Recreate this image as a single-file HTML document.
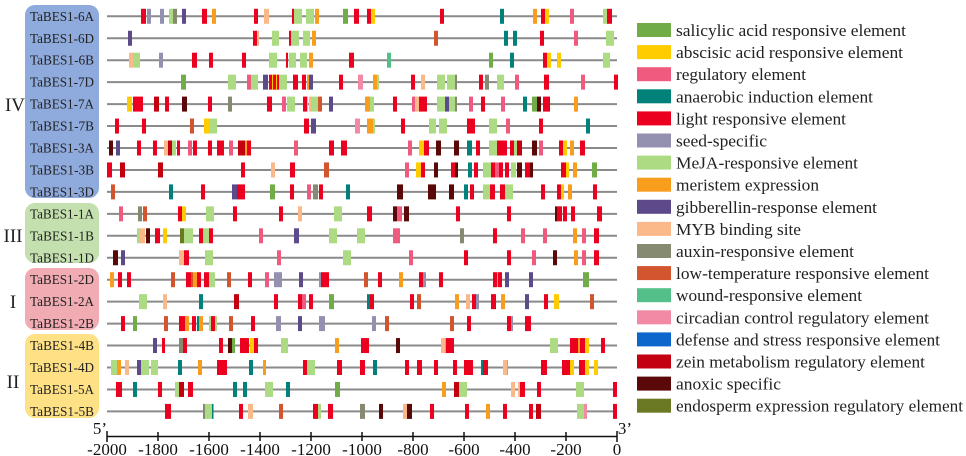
<!DOCTYPE html>
<html><head><meta charset="utf-8"><style>
html,body{margin:0;padding:0;background:#fff;}
svg{display:block;font-family:"Liberation Serif",serif;}
.G{fill:#70ad47}.Y{fill:#ffcc00}.P{fill:#f05a7e}.T{fill:#00827a}.R{fill:#ec0020}.S{fill:#9490b0}
.M{fill:#addb84}.O{fill:#f99d1c}.U{fill:#5d4a8a}.B{fill:#fbb98a}.A{fill:#858a70}.L{fill:#d2552e}
.W{fill:#55bf8a}.C{fill:#f28aa6}.D{fill:#0d66cc}.Z{fill:#c3000f}.X{fill:#5a0808}.E{fill:#6b7a22}
.ln{stroke:#8a8a8a;stroke-width:2}
.gl{font-size:13.3px;fill:#222;text-anchor:middle}
.gp{font-size:19px;fill:#222;text-anchor:middle}
.lg{font-size:17px;fill:#222}
.ax{font-size:17px;fill:#111;text-anchor:middle}
</style></head><body>
<svg width="966" height="456" viewBox="0 0 966 456" xmlns="http://www.w3.org/2000/svg">
<rect x="25" y="5" width="74" height="193" rx="10" fill="#8faadc"/>
<rect x="25" y="203" width="74" height="60" rx="10" fill="#c3e0ae"/>
<rect x="25" y="268" width="74" height="62" rx="10" fill="#f1abb3"/>
<rect x="25" y="334" width="74" height="84" rx="10" fill="#ffe185"/>
<text class="gp" x="15" y="111">IV</text>
<text class="gp" x="13" y="242">III</text>
<text class="gp" x="13" y="308">I</text>
<text class="gp" x="13" y="388">II</text>
<g class="gl">
<text x="62" y="20.8" textLength="64" lengthAdjust="spacingAndGlyphs">TaBES1-6A</text>
<text x="62" y="42.8" textLength="64" lengthAdjust="spacingAndGlyphs">TaBES1-6D</text>
<text x="62" y="64.7" textLength="64" lengthAdjust="spacingAndGlyphs">TaBES1-6B</text>
<text x="62" y="86.7" textLength="64" lengthAdjust="spacingAndGlyphs">TaBES1-7D</text>
<text x="62" y="108.6" textLength="64" lengthAdjust="spacingAndGlyphs">TaBES1-7A</text>
<text x="62" y="130.6" textLength="64" lengthAdjust="spacingAndGlyphs">TaBES1-7B</text>
<text x="62" y="152.5" textLength="64" lengthAdjust="spacingAndGlyphs">TaBES1-3A</text>
<text x="62" y="174.5" textLength="64" lengthAdjust="spacingAndGlyphs">TaBES1-3B</text>
<text x="62" y="196.4" textLength="64" lengthAdjust="spacingAndGlyphs">TaBES1-3D</text>
<text x="62" y="218.4" textLength="64" lengthAdjust="spacingAndGlyphs">TaBES1-1A</text>
<text x="62" y="240.3" textLength="64" lengthAdjust="spacingAndGlyphs">TaBES1-1B</text>
<text x="62" y="262.3" textLength="64" lengthAdjust="spacingAndGlyphs">TaBES1-1D</text>
<text x="62" y="284.2" textLength="64" lengthAdjust="spacingAndGlyphs">TaBES1-2D</text>
<text x="62" y="306.2" textLength="64" lengthAdjust="spacingAndGlyphs">TaBES1-2A</text>
<text x="62" y="328.1" textLength="64" lengthAdjust="spacingAndGlyphs">TaBES1-2B</text>
<text x="62" y="350.1" textLength="64" lengthAdjust="spacingAndGlyphs">TaBES1-4B</text>
<text x="62" y="372" textLength="64" lengthAdjust="spacingAndGlyphs">TaBES1-4D</text>
<text x="62" y="394" textLength="64" lengthAdjust="spacingAndGlyphs">TaBES1-5A</text>
<text x="62" y="415.9" textLength="64" lengthAdjust="spacingAndGlyphs">TaBES1-5B</text>
</g>
<g class="ln">
<line x1="107" x2="617" y1="16.3" y2="16.3"/>
<line x1="107" x2="617" y1="38.25" y2="38.25"/>
<line x1="107" x2="617" y1="60.2" y2="60.2"/>
<line x1="107" x2="617" y1="82.15" y2="82.15"/>
<line x1="107" x2="617" y1="104.1" y2="104.1"/>
<line x1="107" x2="617" y1="126.05" y2="126.05"/>
<line x1="107" x2="617" y1="148" y2="148"/>
<line x1="107" x2="617" y1="169.95" y2="169.95"/>
<line x1="107" x2="617" y1="191.9" y2="191.9"/>
<line x1="107" x2="617" y1="213.85" y2="213.85"/>
<line x1="107" x2="617" y1="235.8" y2="235.8"/>
<line x1="107" x2="617" y1="257.75" y2="257.75"/>
<line x1="107" x2="617" y1="279.7" y2="279.7"/>
<line x1="107" x2="617" y1="301.65" y2="301.65"/>
<line x1="107" x2="617" y1="323.6" y2="323.6"/>
<line x1="107" x2="617" y1="345.55" y2="345.55"/>
<line x1="107" x2="617" y1="367.5" y2="367.5"/>
<line x1="107" x2="617" y1="389.45" y2="389.45"/>
<line x1="107" x2="617" y1="411.4" y2="411.4"/>
</g>
<g transform="translate(0,16.3)">
<rect x="141" y="-7.5" width="5" height="15" class="R"/><rect x="147" y="-7.5" width="4" height="15" class="S"/><rect x="160" y="-7.5" width="4" height="15" class="S"/><rect x="169" y="-7.5" width="4" height="15" class="M"/><rect x="173" y="-7.5" width="4" height="15" class="A"/><rect x="182" y="-7.5" width="4" height="15" class="U"/><rect x="202" y="-7.5" width="5" height="15" class="R"/><rect x="212" y="-7.5" width="4" height="15" class="O"/><rect x="254" y="-7.5" width="4" height="15" class="R"/><rect x="264" y="-7.5" width="5" height="15" class="B"/><rect x="292" y="-7.5" width="2" height="15" class="R"/><rect x="294" y="-7.5" width="8" height="15" class="M"/><rect x="306" y="-7.5" width="8" height="15" class="M"/><rect x="315" y="-7.5" width="4" height="15" class="O"/><rect x="343" y="-7.5" width="5" height="15" class="G"/><rect x="354" y="-7.5" width="5" height="15" class="R"/><rect x="367" y="-7.5" width="4" height="15" class="R"/><rect x="371" y="-7.5" width="4" height="15" class="Y"/><rect x="440" y="-7.5" width="4" height="15" class="R"/><rect x="500" y="-7.5" width="4" height="15" class="T"/><rect x="533" y="-7.5" width="4" height="15" class="O"/><rect x="541" y="-7.5" width="4" height="15" class="R"/><rect x="545" y="-7.5" width="4" height="15" class="Y"/><rect x="570" y="-7.5" width="4" height="15" class="P"/><rect x="603" y="-7.5" width="4" height="15" class="M"/><rect x="607" y="-7.5" width="5" height="15" class="R"/>
</g>
<g transform="translate(0,38.25)">
<rect x="128" y="-7.5" width="4" height="15" class="U"/><rect x="253" y="-7.5" width="4" height="15" class="R"/><rect x="257" y="-7.5" width="2" height="15" class="B"/><rect x="272" y="-7.5" width="7" height="15" class="M"/><rect x="289" y="-7.5" width="2" height="15" class="R"/><rect x="291" y="-7.5" width="8" height="15" class="M"/><rect x="303" y="-7.5" width="7" height="15" class="M"/><rect x="312" y="-7.5" width="4" height="15" class="O"/><rect x="434" y="-7.5" width="4" height="15" class="L"/><rect x="504" y="-7.5" width="4" height="15" class="T"/><rect x="513" y="-7.5" width="4" height="15" class="T"/><rect x="540" y="-7.5" width="4" height="15" class="R"/><rect x="574" y="-7.5" width="4" height="15" class="P"/><rect x="606" y="-7.5" width="8" height="15" class="M"/>
</g>
<g transform="translate(0,60.2)">
<rect x="129" y="-7.5" width="4" height="15" class="B"/><rect x="133" y="-7.5" width="7" height="15" class="M"/><rect x="159" y="-7.5" width="4" height="15" class="S"/><rect x="192" y="-7.5" width="5" height="15" class="R"/><rect x="209" y="-7.5" width="4" height="15" class="R"/><rect x="242" y="-7.5" width="4" height="15" class="R"/><rect x="269" y="-7.5" width="8" height="15" class="M"/><rect x="286" y="-7.5" width="2" height="15" class="R"/><rect x="289" y="-7.5" width="7" height="15" class="M"/><rect x="300" y="-7.5" width="7" height="15" class="M"/><rect x="309" y="-7.5" width="4" height="15" class="O"/><rect x="349" y="-7.5" width="5" height="15" class="R"/><rect x="387" y="-7.5" width="4" height="15" class="W"/><rect x="489" y="-7.5" width="4" height="15" class="G"/><rect x="510" y="-7.5" width="4" height="15" class="T"/><rect x="543" y="-7.5" width="4" height="15" class="R"/><rect x="547" y="-7.5" width="4" height="15" class="Y"/><rect x="557" y="-7.5" width="4" height="15" class="Y"/><rect x="603" y="-7.5" width="7" height="15" class="M"/>
</g>
<g transform="translate(0,82.15)">
<rect x="181" y="-7.5" width="5" height="15" class="G"/><rect x="228" y="-7.5" width="8" height="15" class="M"/><rect x="247" y="-7.5" width="4" height="15" class="P"/><rect x="251" y="-7.5" width="7" height="15" class="M"/><rect x="263" y="-7.5" width="5" height="15" class="U"/><rect x="269" y="-7.5" width="10" height="15" class="R"/><rect x="272" y="-7.5" width="1" height="15" class="Y"/><rect x="276" y="-7.5" width="1" height="15" class="Y"/><rect x="279" y="-7.5" width="8" height="15" class="M"/><rect x="293" y="-7.5" width="5" height="15" class="R"/><rect x="302" y="-7.5" width="4" height="15" class="R"/><rect x="307" y="-7.5" width="2" height="15" class="O"/><rect x="309" y="-7.5" width="4" height="15" class="U"/><rect x="339" y="-7.5" width="4" height="15" class="R"/><rect x="358" y="-7.5" width="5" height="15" class="C"/><rect x="373" y="-7.5" width="4" height="15" class="O"/><rect x="377" y="-7.5" width="2" height="15" class="M"/><rect x="411" y="-7.5" width="4" height="15" class="R"/><rect x="421" y="-7.5" width="4" height="15" class="B"/><rect x="437" y="-7.5" width="8" height="15" class="M"/><rect x="447" y="-7.5" width="8" height="15" class="M"/><rect x="455" y="-7.5" width="2" height="15" class="A"/><rect x="479" y="-7.5" width="4" height="15" class="R"/><rect x="485" y="-7.5" width="4" height="15" class="A"/><rect x="497" y="-7.5" width="7" height="15" class="M"/><rect x="515" y="-7.5" width="4" height="15" class="P"/><rect x="544" y="-7.5" width="5" height="15" class="R"/><rect x="581" y="-7.5" width="4" height="15" class="P"/><rect x="614" y="-7.5" width="4" height="15" class="R"/>
</g>
<g transform="translate(0,104.1)">
<rect x="127" y="-7.5" width="5" height="15" class="Y"/><rect x="133" y="-7.5" width="10" height="15" class="R"/><rect x="154" y="-7.5" width="5" height="15" class="Z"/><rect x="165" y="-7.5" width="4" height="15" class="R"/><rect x="182" y="-7.5" width="5" height="15" class="X"/><rect x="208" y="-7.5" width="4" height="15" class="R"/><rect x="228" y="-7.5" width="4" height="15" class="A"/><rect x="267" y="-7.5" width="5" height="15" class="R"/><rect x="282" y="-7.5" width="4" height="15" class="P"/><rect x="287" y="-7.5" width="8" height="15" class="M"/><rect x="303" y="-7.5" width="4" height="15" class="R"/><rect x="307" y="-7.5" width="1" height="15" class="Y"/><rect x="309" y="-7.5" width="2" height="15" class="B"/><rect x="311" y="-7.5" width="7" height="15" class="M"/><rect x="318" y="-7.5" width="4" height="15" class="L"/><rect x="329" y="-7.5" width="4" height="15" class="U"/><rect x="365" y="-7.5" width="5" height="15" class="O"/><rect x="370" y="-7.5" width="4" height="15" class="M"/><rect x="393" y="-7.5" width="4" height="15" class="R"/><rect x="412" y="-7.5" width="3" height="15" class="P"/><rect x="415" y="-7.5" width="4" height="15" class="B"/><rect x="419" y="-7.5" width="8" height="15" class="R"/><rect x="437" y="-7.5" width="8" height="15" class="M"/><rect x="445" y="-7.5" width="4" height="15" class="U"/><rect x="449" y="-7.5" width="6" height="15" class="M"/><rect x="455" y="-7.5" width="2" height="15" class="A"/><rect x="469" y="-7.5" width="4" height="15" class="P"/><rect x="481" y="-7.5" width="4" height="15" class="R"/><rect x="501" y="-7.5" width="4" height="15" class="P"/><rect x="523" y="-7.5" width="4" height="15" class="T"/><rect x="532" y="-7.5" width="5" height="15" class="G"/><rect x="537" y="-7.5" width="4" height="15" class="X"/><rect x="543" y="-7.5" width="7" height="15" class="R"/><rect x="574" y="-7.5" width="4" height="15" class="O"/>
</g>
<g transform="translate(0,126.05)">
<rect x="115" y="-7.5" width="4" height="15" class="R"/><rect x="142" y="-7.5" width="4" height="15" class="R"/><rect x="190" y="-7.5" width="4" height="15" class="L"/><rect x="204" y="-7.5" width="5" height="15" class="Y"/><rect x="209" y="-7.5" width="8" height="15" class="M"/><rect x="304" y="-7.5" width="5" height="15" class="R"/><rect x="311" y="-7.5" width="5" height="15" class="U"/><rect x="355" y="-7.5" width="5" height="15" class="C"/><rect x="367" y="-7.5" width="6" height="15" class="O"/><rect x="373" y="-7.5" width="2" height="15" class="M"/><rect x="401" y="-7.5" width="4" height="15" class="R"/><rect x="429" y="-7.5" width="7" height="15" class="M"/><rect x="439" y="-7.5" width="8" height="15" class="M"/><rect x="467" y="-7.5" width="8" height="15" class="R"/><rect x="489" y="-7.5" width="8" height="15" class="M"/><rect x="506" y="-7.5" width="4" height="15" class="P"/><rect x="539" y="-7.5" width="4" height="15" class="R"/><rect x="586" y="-7.5" width="4" height="15" class="T"/>
</g>
<g transform="translate(0,148)">
<rect x="109" y="-7.5" width="4" height="15" class="X"/><rect x="116" y="-7.5" width="4" height="15" class="U"/><rect x="137" y="-7.5" width="4" height="15" class="R"/><rect x="153" y="-7.5" width="4" height="15" class="R"/><rect x="164" y="-7.5" width="4" height="15" class="B"/><rect x="168" y="-7.5" width="4" height="15" class="Z"/><rect x="172" y="-7.5" width="4" height="15" class="M"/><rect x="177" y="-7.5" width="3" height="15" class="R"/><rect x="188" y="-7.5" width="4" height="15" class="P"/><rect x="193" y="-7.5" width="4" height="15" class="R"/><rect x="208" y="-7.5" width="4" height="15" class="R"/><rect x="217" y="-7.5" width="7" height="15" class="R"/><rect x="229" y="-7.5" width="4" height="15" class="P"/><rect x="238" y="-7.5" width="7" height="15" class="Z"/><rect x="245" y="-7.5" width="2" height="15" class="O"/><rect x="247" y="-7.5" width="4" height="15" class="R"/><rect x="294" y="-7.5" width="4" height="15" class="P"/><rect x="329" y="-7.5" width="5" height="15" class="R"/><rect x="341" y="-7.5" width="6" height="15" class="R"/><rect x="408" y="-7.5" width="4" height="15" class="P"/><rect x="419" y="-7.5" width="5" height="15" class="Y"/><rect x="424" y="-7.5" width="5" height="15" class="R"/><rect x="436" y="-7.5" width="5" height="15" class="X"/><rect x="454" y="-7.5" width="5" height="15" class="X"/><rect x="467" y="-7.5" width="5" height="15" class="T"/><rect x="476" y="-7.5" width="4" height="15" class="R"/><rect x="489" y="-7.5" width="8" height="15" class="M"/><rect x="497" y="-7.5" width="4" height="15" class="R"/><rect x="501" y="-7.5" width="6" height="15" class="R"/><rect x="510" y="-7.5" width="4" height="15" class="R"/><rect x="514" y="-7.5" width="3" height="15" class="M"/><rect x="517" y="-7.5" width="5" height="15" class="Z"/><rect x="532" y="-7.5" width="5" height="15" class="X"/><rect x="539" y="-7.5" width="4" height="15" class="P"/><rect x="559" y="-7.5" width="4" height="15" class="R"/><rect x="563" y="-7.5" width="4" height="15" class="Y"/><rect x="570" y="-7.5" width="4" height="15" class="O"/><rect x="580" y="-7.5" width="5" height="15" class="R"/>
</g>
<g transform="translate(0,169.95)">
<rect x="107" y="-7.5" width="5" height="15" class="R"/><rect x="120" y="-7.5" width="5" height="15" class="Z"/><rect x="158" y="-7.5" width="5" height="15" class="Z"/><rect x="241" y="-7.5" width="4" height="15" class="R"/><rect x="271" y="-7.5" width="4" height="15" class="B"/><rect x="290" y="-7.5" width="5" height="15" class="R"/><rect x="324" y="-7.5" width="5" height="15" class="L"/><rect x="405" y="-7.5" width="4" height="15" class="P"/><rect x="416" y="-7.5" width="5" height="15" class="Y"/><rect x="421" y="-7.5" width="4" height="15" class="R"/><rect x="434" y="-7.5" width="4" height="15" class="X"/><rect x="451" y="-7.5" width="4" height="15" class="R"/><rect x="455" y="-7.5" width="3" height="15" class="X"/><rect x="468" y="-7.5" width="4" height="15" class="T"/><rect x="474" y="-7.5" width="4" height="15" class="R"/><rect x="483" y="-7.5" width="8" height="15" class="M"/><rect x="491" y="-7.5" width="4" height="15" class="R"/><rect x="495" y="-7.5" width="4" height="15" class="P"/><rect x="499" y="-7.5" width="4" height="15" class="R"/><rect x="505" y="-7.5" width="4" height="15" class="R"/><rect x="511" y="-7.5" width="5" height="15" class="M"/><rect x="517" y="-7.5" width="5" height="15" class="X"/><rect x="525" y="-7.5" width="5" height="15" class="R"/><rect x="530" y="-7.5" width="3" height="15" class="X"/><rect x="561" y="-7.5" width="5" height="15" class="R"/><rect x="566" y="-7.5" width="3" height="15" class="Y"/><rect x="573" y="-7.5" width="4" height="15" class="O"/><rect x="592" y="-7.5" width="5" height="15" class="G"/>
</g>
<g transform="translate(0,191.9)">
<rect x="111" y="-7.5" width="4" height="15" class="L"/><rect x="169" y="-7.5" width="4" height="15" class="T"/><rect x="201" y="-7.5" width="4" height="15" class="R"/><rect x="232" y="-7.5" width="5" height="15" class="U"/><rect x="237" y="-7.5" width="8" height="15" class="R"/><rect x="270" y="-7.5" width="5" height="15" class="G"/><rect x="290" y="-7.5" width="4" height="15" class="R"/><rect x="307" y="-7.5" width="4" height="15" class="P"/><rect x="313" y="-7.5" width="5" height="15" class="A"/><rect x="319" y="-7.5" width="4" height="15" class="R"/><rect x="346" y="-7.5" width="4" height="15" class="T"/><rect x="397" y="-7.5" width="6" height="15" class="X"/><rect x="428" y="-7.5" width="8" height="15" class="X"/><rect x="449" y="-7.5" width="5" height="15" class="X"/><rect x="464" y="-7.5" width="4" height="15" class="T"/><rect x="470" y="-7.5" width="4" height="15" class="R"/><rect x="483" y="-7.5" width="7" height="15" class="M"/><rect x="490" y="-7.5" width="5" height="15" class="R"/><rect x="500" y="-7.5" width="5" height="15" class="R"/><rect x="505" y="-7.5" width="8" height="15" class="M"/><rect x="541" y="-7.5" width="4" height="15" class="R"/><rect x="557" y="-7.5" width="4" height="15" class="R"/><rect x="561" y="-7.5" width="3" height="15" class="Y"/><rect x="568" y="-7.5" width="4" height="15" class="O"/><rect x="593" y="-7.5" width="4" height="15" class="R"/>
</g>
<g transform="translate(0,213.85)">
<rect x="119" y="-7.5" width="4" height="15" class="P"/><rect x="138" y="-7.5" width="4" height="15" class="A"/><rect x="143" y="-7.5" width="4" height="15" class="L"/><rect x="178" y="-7.5" width="4" height="15" class="R"/><rect x="182" y="-7.5" width="4" height="15" class="Y"/><rect x="206" y="-7.5" width="8" height="15" class="M"/><rect x="233" y="-7.5" width="4" height="15" class="R"/><rect x="279" y="-7.5" width="4" height="15" class="R"/><rect x="298" y="-7.5" width="4" height="15" class="B"/><rect x="334" y="-7.5" width="8" height="15" class="M"/><rect x="367" y="-7.5" width="5" height="15" class="R"/><rect x="393" y="-7.5" width="4" height="15" class="X"/><rect x="397" y="-7.5" width="5" height="15" class="P"/><rect x="404" y="-7.5" width="5" height="15" class="X"/><rect x="456" y="-7.5" width="4" height="15" class="R"/><rect x="507" y="-7.5" width="4" height="15" class="R"/><rect x="555" y="-7.5" width="2" height="15" class="X"/><rect x="557" y="-7.5" width="5" height="15" class="R"/><rect x="563" y="-7.5" width="4" height="15" class="R"/><rect x="571" y="-7.5" width="4" height="15" class="R"/><rect x="597" y="-7.5" width="5" height="15" class="R"/>
</g>
<g transform="translate(0,235.8)">
<rect x="137" y="-7.5" width="3" height="15" class="M"/><rect x="140" y="-7.5" width="5" height="15" class="B"/><rect x="146" y="-7.5" width="4" height="15" class="X"/><rect x="155" y="-7.5" width="5" height="15" class="R"/><rect x="163" y="-7.5" width="4" height="15" class="Y"/><rect x="180" y="-7.5" width="4" height="15" class="E"/><rect x="184" y="-7.5" width="9" height="15" class="M"/><rect x="199" y="-7.5" width="4" height="15" class="R"/><rect x="203" y="-7.5" width="6" height="15" class="M"/><rect x="209" y="-7.5" width="4" height="15" class="R"/><rect x="259" y="-7.5" width="4" height="15" class="P"/><rect x="294" y="-7.5" width="5" height="15" class="U"/><rect x="329" y="-7.5" width="8" height="15" class="M"/><rect x="357" y="-7.5" width="8" height="15" class="M"/><rect x="393" y="-7.5" width="7" height="15" class="P"/><rect x="460" y="-7.5" width="4" height="15" class="A"/><rect x="493" y="-7.5" width="4" height="15" class="R"/><rect x="521" y="-7.5" width="4" height="15" class="P"/><rect x="543" y="-7.5" width="4" height="15" class="P"/><rect x="573" y="-7.5" width="4" height="15" class="O"/><rect x="582" y="-7.5" width="4" height="15" class="P"/><rect x="594" y="-7.5" width="5" height="15" class="R"/>
</g>
<g transform="translate(0,257.75)">
<rect x="113" y="-7.5" width="5" height="15" class="X"/><rect x="121" y="-7.5" width="4" height="15" class="U"/><rect x="179" y="-7.5" width="5" height="15" class="B"/><rect x="184" y="-7.5" width="5" height="15" class="R"/><rect x="205" y="-7.5" width="8" height="15" class="M"/><rect x="277" y="-7.5" width="4" height="15" class="P"/><rect x="343" y="-7.5" width="8" height="15" class="M"/><rect x="409" y="-7.5" width="4" height="15" class="P"/><rect x="464" y="-7.5" width="4" height="15" class="R"/><rect x="507" y="-7.5" width="4" height="15" class="R"/><rect x="532" y="-7.5" width="4" height="15" class="P"/><rect x="553" y="-7.5" width="4" height="15" class="X"/><rect x="574" y="-7.5" width="4" height="15" class="O"/><rect x="582" y="-7.5" width="4" height="15" class="P"/><rect x="594" y="-7.5" width="5" height="15" class="R"/>
</g>
<g transform="translate(0,279.7)">
<rect x="110" y="-7.5" width="4" height="15" class="O"/><rect x="118" y="-7.5" width="4" height="15" class="R"/><rect x="127" y="-7.5" width="4" height="15" class="R"/><rect x="171" y="-7.5" width="4" height="15" class="L"/><rect x="186" y="-7.5" width="5" height="15" class="R"/><rect x="191" y="-7.5" width="2" height="15" class="L"/><rect x="193" y="-7.5" width="4" height="15" class="O"/><rect x="197" y="-7.5" width="4" height="15" class="R"/><rect x="204" y="-7.5" width="5" height="15" class="R"/><rect x="209" y="-7.5" width="6" height="15" class="M"/><rect x="227" y="-7.5" width="4" height="15" class="L"/><rect x="248" y="-7.5" width="4" height="15" class="R"/><rect x="265" y="-7.5" width="4" height="15" class="P"/><rect x="274" y="-7.5" width="8" height="15" class="S"/><rect x="299" y="-7.5" width="4" height="15" class="U"/><rect x="319" y="-7.5" width="2" height="15" class="S"/><rect x="321" y="-7.5" width="8" height="15" class="R"/><rect x="364" y="-7.5" width="4" height="15" class="L"/><rect x="378" y="-7.5" width="4" height="15" class="R"/><rect x="399" y="-7.5" width="4" height="15" class="O"/><rect x="419" y="-7.5" width="4" height="15" class="R"/><rect x="423" y="-7.5" width="3" height="15" class="S"/><rect x="439" y="-7.5" width="4" height="15" class="R"/><rect x="493" y="-7.5" width="4" height="15" class="R"/><rect x="497" y="-7.5" width="1" height="15" class="O"/><rect x="498" y="-7.5" width="4" height="15" class="R"/><rect x="505" y="-7.5" width="4" height="15" class="U"/><rect x="529" y="-7.5" width="4" height="15" class="U"/><rect x="583" y="-7.5" width="6" height="15" class="G"/>
</g>
<g transform="translate(0,301.65)">
<rect x="139" y="-7.5" width="8" height="15" class="M"/><rect x="163" y="-7.5" width="4" height="15" class="B"/><rect x="199" y="-7.5" width="4" height="15" class="T"/><rect x="234" y="-7.5" width="5" height="15" class="Z"/><rect x="274" y="-7.5" width="4" height="15" class="R"/><rect x="298" y="-7.5" width="4" height="15" class="R"/><rect x="302" y="-7.5" width="4" height="15" class="P"/><rect x="309" y="-7.5" width="4" height="15" class="R"/><rect x="329" y="-7.5" width="5" height="15" class="G"/><rect x="367" y="-7.5" width="3" height="15" class="T"/><rect x="370" y="-7.5" width="4" height="15" class="R"/><rect x="410" y="-7.5" width="4" height="15" class="R"/><rect x="417" y="-7.5" width="4" height="15" class="L"/><rect x="455" y="-7.5" width="4" height="15" class="O"/><rect x="466" y="-7.5" width="4" height="15" class="B"/><rect x="472" y="-7.5" width="4" height="15" class="R"/><rect x="476" y="-7.5" width="3" height="15" class="S"/><rect x="491" y="-7.5" width="5" height="15" class="R"/><rect x="501" y="-7.5" width="4" height="15" class="O"/><rect x="525" y="-7.5" width="4" height="15" class="U"/><rect x="544" y="-7.5" width="4" height="15" class="R"/><rect x="554" y="-7.5" width="5" height="15" class="Y"/><rect x="590" y="-7.5" width="4" height="15" class="L"/>
</g>
<g transform="translate(0,323.6)">
<rect x="121" y="-7.5" width="4" height="15" class="R"/><rect x="133" y="-7.5" width="4" height="15" class="G"/><rect x="164" y="-7.5" width="4" height="15" class="L"/><rect x="179" y="-7.5" width="6" height="15" class="R"/><rect x="185" y="-7.5" width="4" height="15" class="O"/><rect x="192" y="-7.5" width="4" height="15" class="R"/><rect x="197" y="-7.5" width="2" height="15" class="T"/><rect x="199" y="-7.5" width="4" height="15" class="O"/><rect x="209" y="-7.5" width="2" height="15" class="M"/><rect x="211" y="-7.5" width="4" height="15" class="R"/><rect x="215" y="-7.5" width="2" height="15" class="M"/><rect x="229" y="-7.5" width="4" height="15" class="L"/><rect x="251" y="-7.5" width="4" height="15" class="R"/><rect x="276" y="-7.5" width="5" height="15" class="S"/><rect x="298" y="-7.5" width="4" height="15" class="U"/><rect x="319" y="-7.5" width="6" height="15" class="S"/><rect x="372" y="-7.5" width="4" height="15" class="S"/><rect x="385" y="-7.5" width="4" height="15" class="L"/><rect x="450" y="-7.5" width="4" height="15" class="L"/><rect x="467" y="-7.5" width="4" height="15" class="R"/><rect x="507" y="-7.5" width="4" height="15" class="R"/><rect x="511" y="-7.5" width="2" height="15" class="S"/><rect x="525" y="-7.5" width="6" height="15" class="R"/>
</g>
<g transform="translate(0,345.55)">
<rect x="153" y="-7.5" width="4" height="15" class="U"/><rect x="162" y="-7.5" width="3" height="15" class="R"/><rect x="179" y="-7.5" width="4" height="15" class="A"/><rect x="183" y="-7.5" width="4" height="15" class="R"/><rect x="219" y="-7.5" width="4" height="15" class="R"/><rect x="228" y="-7.5" width="4" height="15" class="X"/><rect x="232" y="-7.5" width="3" height="15" class="G"/><rect x="240" y="-7.5" width="9" height="15" class="R"/><rect x="250" y="-7.5" width="4" height="15" class="Y"/><rect x="254" y="-7.5" width="4" height="15" class="R"/><rect x="281" y="-7.5" width="7" height="15" class="M"/><rect x="335" y="-7.5" width="4" height="15" class="O"/><rect x="361" y="-7.5" width="8" height="15" class="R"/><rect x="396" y="-7.5" width="4" height="15" class="X"/><rect x="441" y="-7.5" width="4" height="15" class="B"/><rect x="445" y="-7.5" width="1" height="15" class="O"/><rect x="446" y="-7.5" width="8" height="15" class="R"/><rect x="550" y="-7.5" width="8" height="15" class="M"/><rect x="570" y="-7.5" width="8" height="15" class="R"/><rect x="578" y="-7.5" width="2" height="15" class="O"/><rect x="580" y="-7.5" width="5" height="15" class="R"/><rect x="585" y="-7.5" width="4" height="15" class="Y"/><rect x="601" y="-7.5" width="4" height="15" class="R"/>
</g>
<g transform="translate(0,367.5)">
<rect x="111" y="-7.5" width="6" height="15" class="M"/><rect x="117" y="-7.5" width="4" height="15" class="O"/><rect x="125" y="-7.5" width="4" height="15" class="B"/><rect x="137" y="-7.5" width="4" height="15" class="U"/><rect x="141" y="-7.5" width="8" height="15" class="M"/><rect x="151" y="-7.5" width="7" height="15" class="M"/><rect x="178" y="-7.5" width="4" height="15" class="T"/><rect x="198" y="-7.5" width="4" height="15" class="O"/><rect x="217" y="-7.5" width="10" height="15" class="R"/><rect x="249" y="-7.5" width="4" height="15" class="T"/><rect x="263" y="-7.5" width="3" height="15" class="O"/><rect x="303" y="-7.5" width="4" height="15" class="R"/><rect x="307" y="-7.5" width="8" height="15" class="M"/><rect x="337" y="-7.5" width="5" height="15" class="R"/><rect x="360" y="-7.5" width="5" height="15" class="R"/><rect x="373" y="-7.5" width="4" height="15" class="T"/><rect x="405" y="-7.5" width="4" height="15" class="R"/><rect x="417" y="-7.5" width="5" height="15" class="R"/><rect x="434" y="-7.5" width="4" height="15" class="R"/><rect x="453" y="-7.5" width="4" height="15" class="R"/><rect x="464" y="-7.5" width="9" height="15" class="R"/><rect x="481" y="-7.5" width="2" height="15" class="T"/><rect x="483" y="-7.5" width="5" height="15" class="R"/><rect x="503" y="-7.5" width="4" height="15" class="B"/><rect x="507" y="-7.5" width="1" height="15" class="O"/><rect x="541" y="-7.5" width="6" height="15" class="R"/><rect x="562" y="-7.5" width="8" height="15" class="R"/><rect x="570" y="-7.5" width="4" height="15" class="Y"/><rect x="579" y="-7.5" width="6" height="15" class="R"/><rect x="585" y="-7.5" width="4" height="15" class="Y"/><rect x="594" y="-7.5" width="4" height="15" class="Y"/>
</g>
<g transform="translate(0,389.45)">
<rect x="116" y="-7.5" width="6" height="15" class="R"/><rect x="133" y="-7.5" width="4" height="15" class="T"/><rect x="158" y="-7.5" width="4" height="15" class="R"/><rect x="175" y="-7.5" width="4" height="15" class="M"/><rect x="179" y="-7.5" width="5" height="15" class="Z"/><rect x="188" y="-7.5" width="5" height="15" class="R"/><rect x="233" y="-7.5" width="4" height="15" class="T"/><rect x="243" y="-7.5" width="4" height="15" class="T"/><rect x="265" y="-7.5" width="8" height="15" class="M"/><rect x="286" y="-7.5" width="4" height="15" class="T"/><rect x="335" y="-7.5" width="5" height="15" class="G"/><rect x="442" y="-7.5" width="4" height="15" class="O"/><rect x="454" y="-7.5" width="5" height="15" class="Z"/><rect x="459" y="-7.5" width="8" height="15" class="M"/><rect x="511" y="-7.5" width="4" height="15" class="B"/><rect x="518" y="-7.5" width="2" height="15" class="B"/><rect x="520" y="-7.5" width="5" height="15" class="R"/><rect x="537" y="-7.5" width="4" height="15" class="R"/><rect x="576" y="-7.5" width="8" height="15" class="M"/><rect x="613" y="-7.5" width="4" height="15" class="R"/>
</g>
<g transform="translate(0,411.4)">
<rect x="165" y="-7.5" width="6" height="15" class="R"/><rect x="203" y="-7.5" width="2" height="15" class="A"/><rect x="205" y="-7.5" width="7" height="15" class="M"/><rect x="212" y="-7.5" width="1.5" height="15" class="T"/><rect x="239" y="-7.5" width="4" height="15" class="R"/><rect x="248" y="-7.5" width="5" height="15" class="B"/><rect x="279" y="-7.5" width="4" height="15" class="L"/><rect x="313" y="-7.5" width="5" height="15" class="R"/><rect x="318" y="-7.5" width="3" height="15" class="M"/><rect x="328" y="-7.5" width="5" height="15" class="R"/><rect x="360" y="-7.5" width="5" height="15" class="A"/><rect x="379" y="-7.5" width="4" height="15" class="X"/><rect x="403" y="-7.5" width="4" height="15" class="B"/><rect x="407" y="-7.5" width="5" height="15" class="X"/><rect x="430" y="-7.5" width="4" height="15" class="R"/><rect x="465" y="-7.5" width="4" height="15" class="R"/><rect x="486" y="-7.5" width="4" height="15" class="O"/><rect x="503" y="-7.5" width="4" height="15" class="R"/><rect x="529" y="-7.5" width="4" height="15" class="R"/><rect x="536" y="-7.5" width="5" height="15" class="Z"/><rect x="577" y="-7.5" width="7" height="15" class="M"/><rect x="584" y="-7.5" width="3" height="15" class="C"/><rect x="613" y="-7.5" width="4" height="15" class="R"/>
</g>
<g stroke="#111" stroke-width="1.5">
<line x1="107" x2="617" y1="436.5" y2="436.5"/>
<line x1="107" x2="107" y1="431" y2="442"/>
<line x1="158" x2="158" y1="432" y2="441"/>
<line x1="209" x2="209" y1="432" y2="441"/>
<line x1="260" x2="260" y1="432" y2="441"/>
<line x1="311" x2="311" y1="432" y2="441"/>
<line x1="362" x2="362" y1="432" y2="441"/>
<line x1="413" x2="413" y1="432" y2="441"/>
<line x1="464" x2="464" y1="432" y2="441"/>
<line x1="515" x2="515" y1="432" y2="441"/>
<line x1="566" x2="566" y1="432" y2="441"/>
<line x1="617" x2="617" y1="431" y2="442"/>
</g>
<text class="ax" x="100" y="434">5’</text>
<text class="ax" x="625" y="434">3’</text>
<g class="ax">
<text x="107" y="455">-2000</text>
<text x="158" y="455">-1800</text>
<text x="209" y="455">-1600</text>
<text x="260" y="455">-1400</text>
<text x="311" y="455">-1200</text>
<text x="362" y="455">-1000</text>
<text x="413" y="455">-800</text>
<text x="464" y="455">-600</text>
<text x="515" y="455">-400</text>
<text x="566" y="455">-200</text>
<text x="617" y="455">0</text>
</g>
<g>
<rect x="637" y="23" width="34" height="14" class="G"/>
<rect x="637" y="45.1" width="34" height="14" class="Y"/>
<rect x="637" y="67.2" width="34" height="14" class="P"/>
<rect x="637" y="89.3" width="34" height="14" class="T"/>
<rect x="637" y="111.4" width="34" height="14" class="R"/>
<rect x="637" y="133.5" width="34" height="14" class="S"/>
<rect x="637" y="155.6" width="34" height="14" class="M"/>
<rect x="637" y="177.7" width="34" height="14" class="O"/>
<rect x="637" y="199.8" width="34" height="14" class="U"/>
<rect x="637" y="221.9" width="34" height="14" class="B"/>
<rect x="637" y="244" width="34" height="14" class="A"/>
<rect x="637" y="266.1" width="34" height="14" class="L"/>
<rect x="637" y="288.2" width="34" height="14" class="W"/>
<rect x="637" y="310.3" width="34" height="14" class="C"/>
<rect x="637" y="332.4" width="34" height="14" class="D"/>
<rect x="637" y="354.5" width="34" height="14" class="Z"/>
<rect x="637" y="376.6" width="34" height="14" class="X"/>
<rect x="637" y="398.7" width="34" height="14" class="E"/>
</g>
<g class="lg">
<text x="676" y="36" textLength="230" lengthAdjust="spacingAndGlyphs">salicylic acid responsive element</text>
<text x="676" y="58.1" textLength="227" lengthAdjust="spacingAndGlyphs">abscisic acid responsive element</text>
<text x="676" y="80.2" textLength="130" lengthAdjust="spacingAndGlyphs">regulatory element</text>
<text x="676" y="102.3" textLength="197" lengthAdjust="spacingAndGlyphs">anaerobic induction element</text>
<text x="676" y="124.4" textLength="170" lengthAdjust="spacingAndGlyphs">light responsive element</text>
<text x="676" y="146.5" textLength="91" lengthAdjust="spacingAndGlyphs">seed-specific</text>
<text x="676" y="168.6" textLength="182" lengthAdjust="spacingAndGlyphs">MeJA-responsive element</text>
<text x="676" y="190.7" textLength="143" lengthAdjust="spacingAndGlyphs">meristem expression</text>
<text x="676" y="212.8" textLength="201" lengthAdjust="spacingAndGlyphs">gibberellin-response element</text>
<text x="676" y="234.9" textLength="125" lengthAdjust="spacingAndGlyphs">MYB binding site</text>
<text x="676" y="257" textLength="178" lengthAdjust="spacingAndGlyphs">auxin-responsive element</text>
<text x="676" y="279.1" textLength="253" lengthAdjust="spacingAndGlyphs">low-temperature responsive element</text>
<text x="676" y="301.2" textLength="186" lengthAdjust="spacingAndGlyphs">wound-responsive element</text>
<text x="676" y="323.3" textLength="253" lengthAdjust="spacingAndGlyphs">circadian control regulatory element</text>
<text x="676" y="345.4" textLength="264" lengthAdjust="spacingAndGlyphs">defense and stress responsive element</text>
<text x="676" y="367.5" textLength="249" lengthAdjust="spacingAndGlyphs">zein metabolism regulatory element</text>
<text x="676" y="389.6" textLength="105" lengthAdjust="spacingAndGlyphs">anoxic specific</text>
<text x="676" y="411.7" textLength="287" lengthAdjust="spacingAndGlyphs">endosperm expression regulatory element</text>
</g>
</svg>
</body></html>
